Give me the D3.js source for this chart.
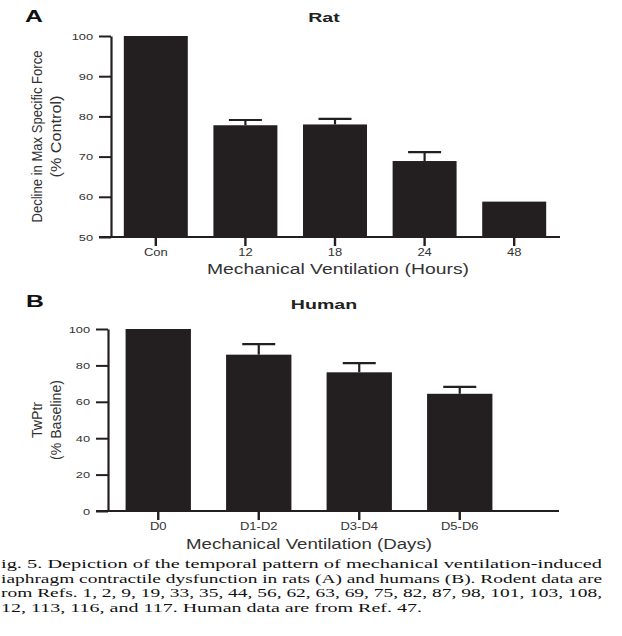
<!DOCTYPE html>
<html>
<head>
<meta charset="utf-8">
<script src="https://cdn.jsdelivr.net/npm/d3@7"></script>
<style>
  html, body { margin: 0; padding: 0; background: #fff; }
  svg { display: block; }
  text { font-family: "Liberation Sans", Arial, Helvetica, sans-serif; fill: #222; }
</style>
</head>
<body>
<svg id="chart" width="622" height="636"></svg>
<script>
// ---------- DATA ----------
const ratCategories = ["Con", "12", "18", "24", "48"];
const ratMeans      = [100, 77.8, 78.0, 68.9, 58.8];
const ratErrors     = [0, 1.3, 1.4, 2.2, 0];
const ratTicks      = [50, 60, 70, 80, 90, 100];

const humanCategories = ["D0", "D1-D2", "D3-D4", "D5-D6"];
const humanMeans      = [100, 85.9, 76.2, 64.4];
const humanErrors     = [0, 5.8, 5.1, 3.8];
const humanTicks      = [0, 20, 40, 60, 80, 100];

const captionLines = [
  "ig. 5. Depiction of the temporal pattern of mechanical ventilation-induced",
  "iaphragm contractile dysfunction in rats (A) and humans (B). Rodent data are",
  "rom Refs. 1, 2, 9, 19, 33, 35, 44, 56, 62, 63, 69, 75, 82, 87, 98, 101, 103, 108,",
  "12, 113, 116, and 117. Human data are from Ref. 47."
];

// ---------- DRAWING ----------
const svg = d3.select("#chart");
const ink = "#231f20";
const stretch = 1.35;   // horizontal stretch of horizontal labels in the source figure

function panel(cfg) {
  const g = svg.append("g");
  const x = d3.scaleBand().domain(cfg.cats).range(cfg.xRange)
      .paddingInner(cfg.padIn).paddingOuter(cfg.padOut);
  const y = d3.scaleLinear().domain(cfg.yDomain).range(cfg.yRange);

  // bars
  g.selectAll("rect.bar").data(cfg.means).join("rect")
    .attr("class", "bar")
    .attr("x", (d, i) => x(cfg.cats[i]))
    .attr("width", x.bandwidth())
    .attr("y", d => y(d))
    .attr("height", d => y(cfg.yDomain[0]) - y(d))
    .attr("fill", ink);

  // error bars (upper only)
  const capW = 33;
  const eb = g.selectAll("g.err").data(cfg.means.map((m, i) => ({m, e: cfg.errs[i], c: cfg.cats[i]})).filter(d => d.e > 0))
    .join("g").attr("class", "err");
  eb.append("line")
    .attr("x1", d => x(d.c) + x.bandwidth() / 2).attr("x2", d => x(d.c) + x.bandwidth() / 2)
    .attr("y1", d => y(d.m)).attr("y2", d => y(d.m + d.e))
    .attr("stroke", ink).attr("stroke-width", 2.2);
  eb.append("line")
    .attr("x1", d => x(d.c) + x.bandwidth() / 2 - capW / 2).attr("x2", d => x(d.c) + x.bandwidth() / 2 + capW / 2)
    .attr("y1", d => y(d.m + d.e)).attr("y2", d => y(d.m + d.e))
    .attr("stroke", ink).attr("stroke-width", 2.2);

  // y axis
  const ya = g.append("g").attr("transform", `translate(${cfg.xRange[0]},0)`)
    .call(d3.axisLeft(y).tickValues(cfg.yTicks).tickSize(12).tickPadding(6).tickSizeOuter(0));
  ya.select(".domain").attr("stroke", ink).attr("stroke-width", 2.2);
  ya.selectAll(".tick line").attr("stroke", ink).attr("stroke-width", 2);
  ya.selectAll(".tick text")
    .attr("x", -18 / stretch).attr("transform", `scale(${stretch},1)`)
    .style("font-size", "9.5px").style("fill", "#333");

  // x axis
  const baseY = y(cfg.yDomain[0]);
  const xa = g.append("g").attr("transform", `translate(0,${baseY})`)
    .call(d3.axisBottom(x).tickSize(9).tickPadding(3).tickSizeOuter(0));
  xa.select(".domain").remove();
  xa.append("line").attr("x1", cfg.xRange[0] - 12).attr("x2", cfg.axisEnd)
    .attr("y1", 0).attr("y2", 0).attr("stroke", ink).attr("stroke-width", 2.2);
  xa.selectAll(".tick line").attr("stroke", ink).attr("stroke-width", 2.4);
  xa.selectAll(".tick text").attr("transform", `scale(1.3,1)`)
    .style("font-size", "10px").style("fill", "#333");

  // panel letter
  svg.append("text").attr("transform", `translate(${cfg.letterX},${cfg.letterY}) scale(1.55,1)`)
    .style("font-size", "16px").style("font-weight", "bold").style("fill", "#111")
    .text(cfg.letter);
  // title
  svg.append("text").attr("transform", `translate(${cfg.titleX},${cfg.titleY}) scale(1.45,1)`)
    .attr("text-anchor", "middle")
    .style("font-size", "13.5px").style("font-weight", "bold").style("fill", "#222")
    .text(cfg.title);
  // x title
  svg.append("text").attr("x", cfg.xTitleX).attr("y", cfg.xTitleY)
    .attr("text-anchor", "middle").attr("textLength", cfg.xTitleLen).attr("lengthAdjust", "spacingAndGlyphs")
    .style("font-size", "15.5px").style("fill", "#333")
    .text(cfg.xTitle);
  // y titles
  const yc = (cfg.yRange[0] + cfg.yRange[1]) / 2;
  cfg.yTitle.forEach((t, i) => {
    svg.append("text")
      .attr("transform", `translate(${cfg.yTitleX[i]},${yc}) rotate(-90)`)
      .attr("text-anchor", "middle")
      .attr("textLength", cfg.yTitleLen[i]).attr("lengthAdjust", "spacingAndGlyphs")
      .style("font-size", "15.5px").style("fill", "#333")
      .text(t);
  });
}

panel({
  cats: ratCategories, means: ratMeans, errs: ratErrors, yTicks: ratTicks,
  xRange: [111, 559], padIn: 0.286, padOut: 0.143, axisEnd: 560,
  yDomain: [50, 100], yRange: [237, 36],
  letter: "A", letterX: 25, letterY: 22,
  title: "Rat", titleX: 324, titleY: 22,
  xTitle: "Mechanical Ventilation (Hours)", xTitleX: 338, xTitleY: 274, xTitleLen: 262,
  yTitle: ["Decline in Max Specific Force", "(% Control)"], yTitleX: [41.5, 60.5], yTitleLen: [172, 82]
});

panel({
  cats: humanCategories, means: humanMeans, errs: humanErrors, yTicks: humanTicks,
  xRange: [108, 510], padIn: 0.35, padOut: 0.175, axisEnd: 559,
  yDomain: [0, 100], yRange: [511, 329],
  letter: "B", letterX: 26, letterY: 307,
  title: "Human", titleX: 324, titleY: 309,
  xTitle: "Mechanical Ventilation (Days)", xTitleX: 309, xTitleY: 549, xTitleLen: 246,
  yTitle: ["TwPtr", "(% Baseline)"], yTitleX: [42, 60.5], yTitleLen: [36, 80]
});

// caption
const cap = svg.append("g");
captionLines.forEach((t, i) => {
  cap.append("text")
    .attr("x", 1).attr("y", 568 + i * 14.6)
    .attr("textLength", i < 3 ? 601 : 421).attr("lengthAdjust", "spacingAndGlyphs")
    .style("font-family", "'Liberation Serif', 'Times New Roman', serif")
    .style("font-size", "13.5px").style("fill", "#111")
    .text(t);
});
</script>
</body>
</html>
